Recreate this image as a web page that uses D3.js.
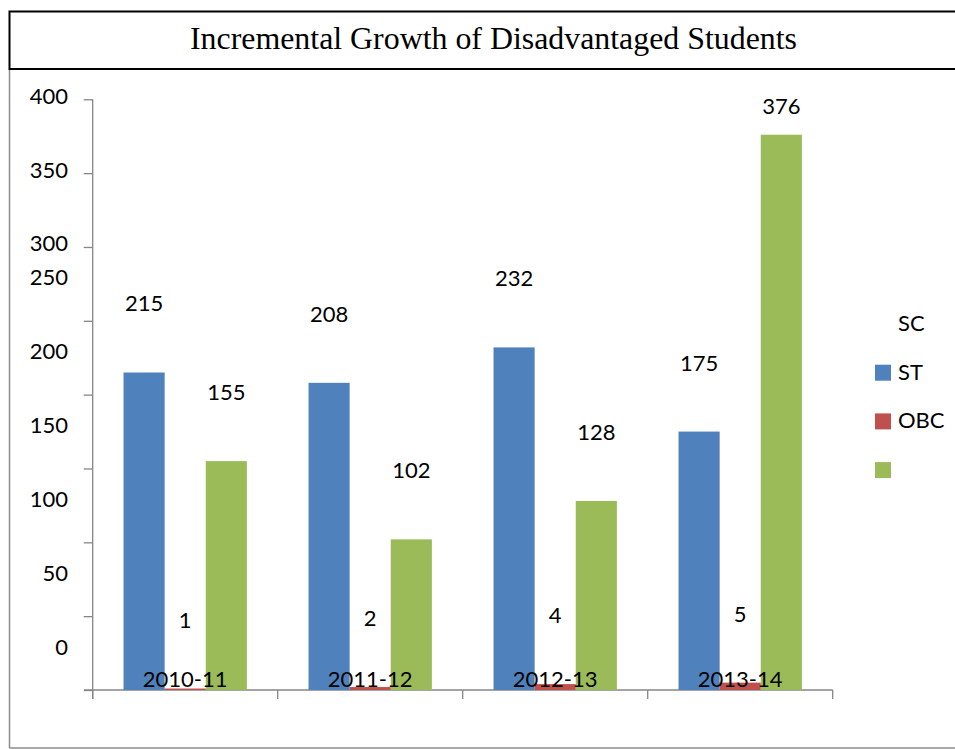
<!DOCTYPE html>
<html><head><meta charset="utf-8">
<script src="https://cdn.jsdelivr.net/npm/d3@7"></script>
<style>body{margin:0;background:#fff}svg{display:block}</style>
</head><body>
<script>
const categories = ["2010-11","2011-12","2012-13","2013-14"];
const seriesNames = ["SC","ST","OBC"];
const sc = [215,208,232,175];
const obc = [1,2,4,5];
const st = [155,102,128,376];
const seriesValues = [sc, obc, st];
const seriesColors = ["#4F81BD","#C0504D","#9BBB59"];
const yTicks = [0,50,100,150,200,250,300,350,400];
const title = "Incremental Growth of Disadvantaged Students";

const W=955,H=749;
const svg=d3.select("body").append("svg").attr("width",W).attr("height",H);
const font="Lato, 'Open Sans', sans-serif";

// frame
svg.append("line").attr("x1",9.5).attr("x2",9.5).attr("y1",69).attr("y2",748).attr("stroke","#8c8c8c").attr("stroke-width",1.5);
svg.append("line").attr("x1",9.5).attr("x2",W).attr("y1",748).attr("y2",748).attr("stroke","#8c8c8c").attr("stroke-width",1.5);
svg.append("path").attr("d",`M${W},11.5H9.5V69H${W}`).attr("fill","none").attr("stroke","#000").attr("stroke-width",2);
svg.append("text").attr("x",493.5).attr("y",49).attr("text-anchor","middle")
  .attr("font-family","'Liberation Serif','Times New Roman',serif").attr("font-size",32)
  .attr("textLength",607).attr("lengthAdjust","spacingAndGlyphs").text(title);

const y=d3.scaleLinear().domain([0,400]).range([690,99.3]);
const x0=d3.scaleBand().domain(categories).range([92.7,832.7]).padding(0);
const bw=x0.bandwidth();
const x1=d3.scaleBand().domain(d3.range(3)).range([bw/6,bw*5/6]).padding(0);

// y axis
const yAxis=svg.append("g").attr("transform","translate(92.7,0)")
  .call(d3.axisLeft(y).tickValues(yTicks).tickSize(9).tickFormat(""));
yAxis.selectAll("line,path").attr("stroke","#868686").attr("stroke-width",1.3);
yAxis.select(".domain").attr("d","M0,99.3V699");
// misplaced labels (as in reference)
svg.append("g").selectAll("text").data(yTicks).join("text")
  .attr("x",68).attr("text-anchor","end").attr("dominant-baseline","central")
  .attr("y",d=>y(d)-(d<=250?44:4)).attr("font-family",font).attr("font-size",22).attr("fill","#000")
  .text(d=>d);

// x axis
const xAxis=svg.append("g").attr("transform","translate(0,690)");
xAxis.append("line").attr("x1",84).attr("x2",832.7).attr("stroke","#868686").attr("stroke-width",1.3);
const bounds=categories.map(c=>x0(c)).concat([x0(categories[3])+bw]);
xAxis.selectAll("line.t").data(bounds).join("line").attr("class","t")
  .attr("x1",d=>d).attr("x2",d=>d).attr("y1",0).attr("y2",9).attr("stroke","#868686").attr("stroke-width",1.3);

// bars
const g=svg.append("g");
seriesValues.forEach((vals,si)=>{
  g.selectAll(null).data(vals).join("rect")
    .attr("x",(d,i)=>x0(categories[i])+x1(si)).attr("width",x1.bandwidth())
    .attr("y",d=>y(d)).attr("height",d=>y(0)-y(d)).attr("fill",seriesColors[si]);
});
// value labels
seriesValues.forEach((vals,si)=>{
  g.selectAll(null).data(vals).join("text")
    .attr("x",(d,i)=>x0(categories[i])+x1(si)+x1.bandwidth()/2)
    .attr("y",d=>Math.max(y(d)-69.5,105)).attr("text-anchor","middle").attr("dominant-baseline","central")
    .attr("font-family",font).attr("font-size",22).attr("fill","#000").text(d=>d);
});
// category labels
g.selectAll(null).data(categories).join("text")
  .attr("x",d=>x0(d)+bw/2).attr("y",687).attr("text-anchor","middle")
  .attr("font-family",font).attr("font-size",22).attr("fill","#000").text(d=>d);

// legend (labels shifted one row up as in reference)
const lg=svg.append("g");
const rowY=i=>322.5+i*48.7;
lg.selectAll(null).data(seriesNames).join("text")
  .attr("x",898).attr("y",(d,i)=>rowY(i)).attr("dominant-baseline","central")
  .attr("font-family",font).attr("font-size",22).attr("fill","#000").text(d=>d);
lg.selectAll(null).data(seriesColors).join("rect")
  .attr("x",875).attr("y",(d,i)=>325+(i+1)*48.7-9).attr("width",16).attr("height",16).attr("fill",d=>d);
</script>
</body></html>
